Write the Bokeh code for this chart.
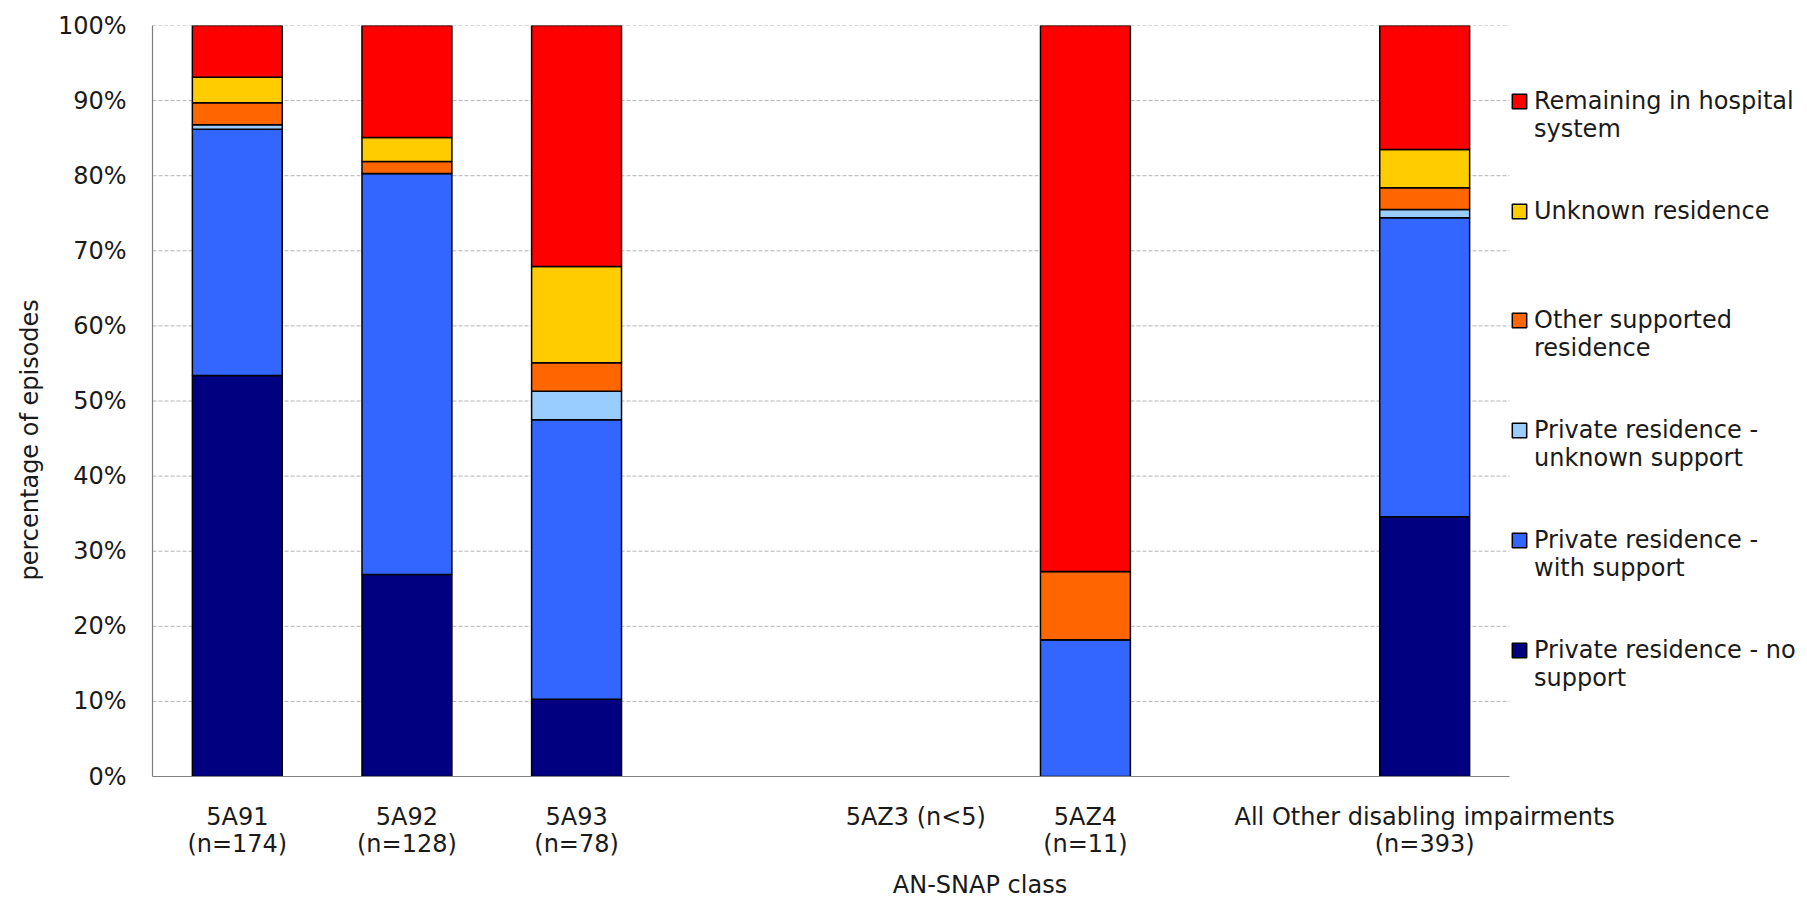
from bokeh.plotting import figure
from bokeh.models import (ColumnDataSource, Range1d, FixedTicker, Legend, LegendItem,
                          PrintfTickFormatter, Title)
from bokeh.embed import file_html
from bokeh.resources import INLINE

# ---- data (percentage of episodes) ----
categories = ["5A91\n(n=174)", "5A92\n(n=128)", "5A93\n(n=78)", "", "5AZ3 (n<5)",
              "5AZ4\n(n=11)", "", "All Other disabling impairments\n(n=393)"]
no_support      = [53.4, 26.9, 10.3, 0, 0, 0.0, 0, 34.6]
with_support    = [32.8, 53.4, 37.2, 0, 0, 18.2, 0, 39.8]
unknown_support = [0.6, 0.0, 3.8, 0, 0, 0.0, 0, 1.1]
other_supported = [2.9, 1.6, 3.8, 0, 0, 9.1, 0, 2.9]
unknown_res     = [3.4, 3.2, 12.8, 0, 0, 0.0, 0, 5.1]
remaining       = [6.9, 14.9, 32.1, 0, 0, 72.7, 0, 16.5]

series_keys = ["no_support", "with_support", "unknown_support",
               "other_supported", "unknown_res", "remaining"]
series_label_lines = [["Private residence - no", "support"],
                      ["Private residence -", "with support"],
                      ["Private residence -", "unknown support"],
                      ["Other supported", "residence"],
                      ["Unknown residence"],
                      ["Remaining in hospital", "system"]]
colors = ["#000080", "#3366FF", "#99CCFF", "#FF6600", "#FFCC00", "#FF0000"]
y_ticks = [0, 10, 20, 30, 40, 50, 60, 70, 80, 90, 100]

FONT = "DejaVu Sans"
FS = "24px"
TXT = "#1a1a1a"

all_series = [no_support, with_support, unknown_support, other_supported, unknown_res, remaining]
keep = [i for i in range(len(categories)) if sum(s[i] for s in all_series) > 0]
data = {"x": keep}
for k, s in zip(series_keys, all_series):
    data[k] = [s[i] for i in keep]
source = ColumnDataSource(data)

W, H = 1807, 901
FRAME_L, FRAME_R_PLOT = 152, 1509          # plotting area of the chart itself
slot = (FRAME_R_PLOT - FRAME_L) / len(categories)
x_end = -0.5 + (W - FRAME_L) / slot          # extra room on the right holds the legend

p = figure(width=W, height=H, output_backend="svg", toolbar_location=None,
           x_range=Range1d(-0.5, x_end), y_range=Range1d(0, 100),
           min_border_left=FRAME_L, min_border_right=0, min_border_top=25, min_border_bottom=125)
p.outline_line_color = None
p.background_fill_color = "white"

# dashed horizontal gridlines across the category area only
p.segment(x0=-0.5, x1=len(categories) - 0.5, y0=y_ticks[1:], y1=y_ticks[1:],
          line_color="#b3b3b3", line_dash="4 2", line_width=1, level="underlay")

renderers = p.vbar_stack(series_keys, x="x", width=0.53, source=source, fill_color=colors,
                         line_color="black", line_width=1.5)

# axes
p.xaxis.ticker = FixedTicker(ticks=list(range(len(categories))))
p.xaxis.major_label_overrides = {i: c for i, c in enumerate(categories)}
p.xaxis.bounds = (-0.5, len(categories) - 0.5)
p.yaxis.ticker = FixedTicker(ticks=y_ticks)
p.yaxis.formatter = PrintfTickFormatter(format="%d%%")
for ax in (p.xaxis[0], p.yaxis[0]):
    ax.axis_line_color = "#7f7f7f"
    ax.axis_line_width = 1.2
    ax.major_tick_line_color = None
    ax.minor_tick_line_color = None
    ax.major_tick_in = 0
    ax.major_tick_out = 0
    ax.major_label_text_font = FONT
    ax.major_label_text_font_size = FS
    ax.major_label_text_color = TXT
    ax.axis_label_text_font = FONT
    ax.axis_label_text_font_size = FS
    ax.axis_label_text_font_style = "normal"
    ax.axis_label_text_color = TXT
p.yaxis.major_label_standoff = 26
p.xaxis.major_label_standoff = 26
p.xaxis.major_label_text_line_height = 0.97
p.xaxis.axis_label = "AN-SNAP class"
p.xaxis.axis_label_standoff = 10

# y axis title, set a little below the frame's middle as in the original
p.add_layout(Title(text="percentage of episodes", align="left", offset=196, standoff=21,
                   text_font=FONT, text_font_size=FS, text_font_style="normal",
                   text_color=TXT), "left")

p.grid.visible = False

# legend: one row per text line, four rows per entry (top entry = top of stack)
blank = p.vbar(x=[], top=[], width=0.5, fill_alpha=0, line_alpha=0)
items = []
for lines, r in list(zip(series_label_lines, renderers))[::-1]:
    rows = lines + [" "] * (4 - len(lines))
    for j, txt in enumerate(rows):
        items.append(LegendItem(label=txt, renderers=[r if j == 0 else blank]))
items = items[:-2]
ROW = 27.5
leg_h = ROW * len(items)
leg_top = 101 - ROW / 2
legend = Legend(items=items, location=(1358, round((776 - leg_top) - leg_h)),
                orientation="vertical",
                glyph_width=18, glyph_height=18, label_standoff=6, padding=0, margin=0,
                spacing=0, label_height=27, label_text_line_height=ROW / (24 * 1.164),
                border_line_alpha=0, background_fill_alpha=0,
                label_text_font=FONT, label_text_font_size=FS, label_text_color=TXT)
p.add_layout(legend)

open("out.html", "w").write(file_html(p, INLINE))
